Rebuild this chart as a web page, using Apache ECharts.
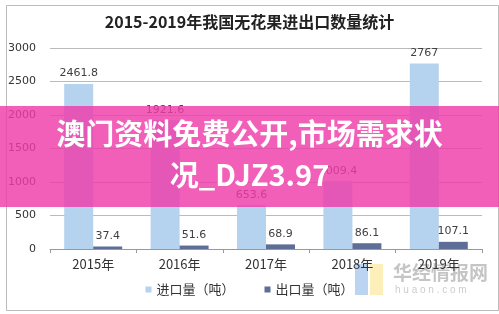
<!DOCTYPE html>
<html><head><meta charset="utf-8">
<script src="https://cdn.jsdelivr.net/npm/echarts@6/dist/echarts.min.js"></script>
<style>html,body{margin:0;padding:0;background:#fff}#c{width:499px;height:314px}</style>
</head><body><div id="c"></div>
<script>
const categories = ['2015年','2016年','2017年','2018年','2019年'];
const importVals = [2461.8, 1921.6, 653.6, 1009.4, 2767];
const exportVals = [37.4, 51.6, 68.9, 86.1, 107.1];
const yTicks = [0, 500, 1000, 1500, 2000, 2500, 3000];
const seriesNames = ['进口量（吨）','出口量（吨）'];
const titleText = '2015-2019年我国无花果进出口数量统计';
const bannerLines = ['澳门资料免费公开,市场需求状','况_DJZ3.97'];

const chart = echarts.init(document.getElementById('c'));
const font = '"Noto Sans CJK SC","Microsoft YaHei",sans-serif';
chart.setOption({
  animation:false,
  title:{text:titleText,left:'center',top:9,textStyle:{fontFamily:font,fontSize:16,fontWeight:'bold',color:'#222'}},
  grid:{left:50,right:17,top:48,bottom:65},
  legend:{bottom:13,left:'center',itemWidth:6,itemHeight:6,itemGap:30,icon:'rect',
    textStyle:{fontFamily:font,fontSize:13,color:'#333'},data:seriesNames},
  xAxis:{type:'category',data:categories,
    axisLine:{lineStyle:{color:'#999'}},
    axisTick:{show:true,alignWithLabel:false,length:4,lineStyle:{color:'#999'}},
    axisLabel:{fontFamily:font,fontSize:13,color:'#333',margin:9}},
  yAxis:{type:'value',min:yTicks[0],max:yTicks[yTicks.length-1],interval:500,
    axisLine:{show:false},axisTick:{show:false},
    axisLabel:{fontFamily:'"DejaVu Sans",sans-serif',fontSize:11,color:'#333',margin:14,formatter:v=>String(v)},
    splitLine:{lineStyle:{color:'#bbb'}}},
  series:[
    {name:seriesNames[0],type:'bar',data:importVals,barWidth:29,barGap:'0%',
     itemStyle:{color:'#b5d2ef'},
     label:{show:true,position:'top',fontSize:11,color:'#404040',fontFamily:'"DejaVu Sans",sans-serif'}},
    {name:seriesNames[1],type:'bar',data:exportVals,barWidth:29,
     itemStyle:{color:'#5f6e96'},
     label:{show:true,position:'top',fontSize:11,color:'#404040',fontFamily:'"DejaVu Sans",sans-serif'}}
  ],
  graphic:[
    {type:'rect',left:4,top:3,z:-1,shape:{width:492,height:305},style:{fill:'none',stroke:'#bbb',lineWidth:1}},
    {type:'group',left:355,top:263,z:50,children:[
      {type:'rect',shape:{x:0,y:0,width:13,height:31},style:{fill:'rgba(120,170,230,0.5)'}},
      {type:'rect',shape:{x:15,y:0,width:13,height:31},style:{fill:'rgba(250,225,130,0.55)'}},
      {type:'text',x:38,y:-1,style:{text:'华经情报网',font:'bold 19px '+font,fill:'rgba(150,150,150,0.55)'}},
      {type:'text',x:40,y:21,style:{text:'h u a o n . c o m',font:'10px sans-serif',fill:'rgba(170,170,170,0.6)'}}
    ]},
    {type:'rect',left:0,top:106,z:100,shape:{width:499,height:101},style:{fill:'rgba(238,60,170,0.82)'}},
    {type:'text',left:'center',top:119,z:101,style:{text:bannerLines[0],font:'bold 29px '+font,fill:'#fff'}},
    {type:'text',left:'center',top:160,z:101,style:{text:bannerLines[1],font:'bold 29px '+font,fill:'#fff'}}
  ]
});
</script></body></html>
